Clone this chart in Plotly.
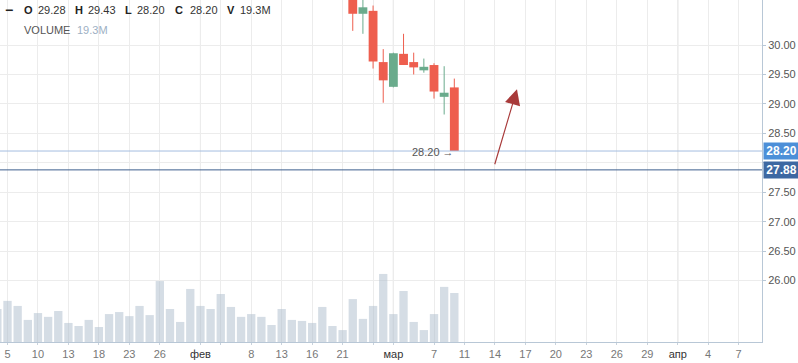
import plotly.graph_objects as go

# ---------------- data ----------------
bar_index = list(range(-1, 45))
volume_m = [13.0, 16.2, 14.2, 8.7, 11.4, 9.9, 12.2, 7.5, 6.3, 8.7, 5.9, 11.0, 11.8, 10.2,
            14.2, 10.6, 24.0, 13.0, 7.9, 20.9, 14.2, 13.0, 18.9, 13.8, 9.9, 11.0, 9.9, 6.7,
            13.0, 8.7, 8.3, 7.5, 13.8, 6.3, 4.7, 16.9, 9.1, 14.2, 26.8, 11.0, 20.1, 7.9,
            4.7, 11.0, 21.7, 19.3]

candle_index = [34, 35, 36, 37, 38, 39, 40, 41, 42, 43, 44]
open_p  = [30.95, 30.53, 30.58, 29.71, 29.29, 29.85, 29.71, 29.57, 29.66, 29.12, 29.28]
high_p  = [31.05, 30.90, 30.67, 29.93, 29.87, 30.19, 29.87, 29.77, 29.69, 29.64, 29.43]
low_p   = [30.24, 30.19, 29.60, 29.02, 29.28, 29.66, 29.50, 29.53, 29.09, 28.82, 28.20]
close_p = [30.53, 30.64, 29.72, 29.40, 29.86, 29.66, 29.62, 29.63, 29.21, 29.19, 28.20]

x_tick_pos  = [0, 3, 6, 9, 12, 15, 19, 21, 24, 27, 30, 33, 36, 38, 42, 45, 48, 51, 54,
               57, 60, 63, 66, 69, 72]
x_tick_text = ["5", "10", "13", "18", "23", "26", "фев", "", "8", "13", "16", "21", "",
               "мар", "7", "11", "14", "17", "20", "23", "26", "29", "апр", "4", "7"]
month_pos = [19, 38, 66]
month_names = ["фев", "мар", "апр"]

y_tick_vals = [26.0, 26.5, 27.0, 27.5, 28.0, 28.5, 29.0, 29.5, 30.0]
y_tick_text = ["26.00", "26.50", "27.00", "27.50", "", "28.50", "29.00", "29.50", "30.00"]

last_price = 28.20
alert_price = 27.88
arrow_from = (47.94, 27.95)
arrow_to = (50.17, 29.25)

legend_items = [("O", "29.28"), ("H", "29.43"), ("L", "28.20"), ("C", "28.20"), ("V", "19.3M")]
volume_label = ("VOLUME", "19.3M")

# ---------------- style ----------------
RED = "#ee5e4e"
GREEN = "#6aab8c"
FONT = "Liberation Sans, Arial, sans-serif"

fig = go.Figure()

fig.add_trace(go.Bar(
    x=bar_index, y=volume_m, yaxis="y2", width=0.82,
    marker=dict(color="rgba(178,193,208,0.55)", line=dict(width=0)),
    hoverinfo="skip", showlegend=False))

for up in (True, False):
    col = GREEN if up else RED
    xs, base, h, wx, wy = [], [], [], [], []
    for i, o, hi, lo, c in zip(candle_index, open_p, high_p, low_p, close_p):
        if (c >= o) != up:
            continue
        xs.append(i)
        base.append(min(o, c))
        h.append(abs(c - o))
        wx += [i, i, None]
        wy += [lo, hi, None]
    fig.add_trace(go.Scatter(x=wx, y=wy, mode="lines", line=dict(color=col, width=1),
                             hoverinfo="skip", showlegend=False))
    fig.add_trace(go.Bar(x=xs, y=h, base=base, width=0.87,
                         marker=dict(color=col, line=dict(width=0)),
                         hoverinfo="skip", showlegend=False))

shapes = []
for m in month_pos:
    shapes.append(dict(type="line", xref="x", yref="paper", x0=m, x1=m, y0=0, y1=1,
                       line=dict(color="#c4c4c4", width=1), layer="below"))
shapes.append(dict(type="line", xref="paper", yref="y", x0=0, x1=1, y0=last_price, y1=last_price,
                   line=dict(color="#a4bde0", width=1)))
shapes.append(dict(type="line", xref="paper", yref="y", x0=0, x1=1, y0=alert_price, y1=alert_price,
                   line=dict(color="#3d5f8e", width=1)))

ann = []
H = 342.0
W = 762.0
ROW1 = 10.0
ROW2 = 30.0
# legend row 1
ann.append(dict(xref="paper", yref="paper", x=3 / W, y=1 - ROW1 / H, xanchor="left", yanchor="middle",
                text="<b>−</b>", showarrow=False,
                font=dict(family=FONT, size=14, color="#222")))
label_x = [22, 73, 123, 173, 225]
value_x = [36, 86, 135, 188, 238]
for (k, v), lx, vx in zip(legend_items, label_x, value_x):
    ann.append(dict(xref="paper", yref="paper", x=lx / W, y=1 - ROW1 / H, xanchor="left",
                    yanchor="middle", text="<b>%s</b>" % k, showarrow=False,
                    font=dict(family=FONT, size=11, color="#222")))
    ann.append(dict(xref="paper", yref="paper", x=vx / W, y=1 - ROW1 / H, xanchor="left",
                    yanchor="middle", text=v, showarrow=False,
                    font=dict(family=FONT, size=11, color="#333")))
ann.append(dict(xref="paper", yref="paper", x=22 / W, y=1 - ROW2 / H, xanchor="left",
                yanchor="middle", text=volume_label[0], showarrow=False,
                font=dict(family=FONT, size=11, color="#555")))
ann.append(dict(xref="paper", yref="paper", x=75 / W, y=1 - ROW2 / H, xanchor="left",
                yanchor="middle", text=volume_label[1], showarrow=False,
                font=dict(family=FONT, size=11, color="#9db0c4")))

# last price label by candle
ann.append(dict(xref="x", yref="y", x=candle_index[-1], y=last_price, xanchor="right",
                yanchor="middle", xshift=2, yshift=-1, text="28.20 →", showarrow=False,
                font=dict(family=FONT, size=11, color="#555")))

# axis boxes
for p, bg in ((last_price, "#4c8fd8"), (alert_price, "#3d68a2")):
    ann.append(dict(xref="paper", yref="y", x=1, y=p, xanchor="left", yanchor="middle",
                    xshift=1, text="<b>%.2f</b>" % p, showarrow=False, bgcolor=bg,
                    width=33, height=14, borderpad=1, align="center",
                    font=dict(family=FONT, size=12, color="white")))

# drawn arrow
ann.append(dict(xref="x", yref="y", x=arrow_to[0], y=arrow_to[1], axref="x", ayref="y",
                ax=arrow_from[0], ay=arrow_from[1], text="", showarrow=True,
                arrowhead=2, arrowsize=2.6, arrowwidth=1.2, arrowcolor="#a83a3a"))

tick_text_styled = [('<span style="color:#333">%s</span>' % t) if t in month_names else t
                    for t in x_tick_text]

fig.update_layout(
    width=798, height=363,
    margin=dict(l=0, r=36, t=0, b=21),
    paper_bgcolor="white", plot_bgcolor="white",
    barmode="overlay", showlegend=False,
    shapes=shapes, annotations=ann,
    font=dict(family=FONT, size=11, color="#555"),
    xaxis=dict(range=[-0.739, 74.3], tickmode="array", tickvals=x_tick_pos, ticktext=tick_text_styled,
               showgrid=True, gridcolor="#ececec", gridwidth=1, zeroline=False,
               showline=True, linecolor="#b8c7d6", linewidth=1, mirror=True,
               ticks="outside", ticklen=2, tickcolor="#c8d2dc",
               tickfont=dict(family=FONT, size=11, color="#777")),
    yaxis=dict(side="right", range=[24.958, 30.764], tickmode="array", tickvals=y_tick_vals,
               ticktext=y_tick_text, showgrid=True, gridcolor="#ececec", zeroline=False,
               showline=True, linecolor="#b8c7d6", linewidth=1,
               ticks="outside", ticklen=3, tickcolor="#b8c7d6",
               tickfont=dict(family=FONT, size=11, color="#555")),
    yaxis2=dict(overlaying="y", range=[0, 134.7], visible=False, fixedrange=True),
)

fig.write_html("out.html", config={"displayModeBar": False},
               post_script="document.body.style.margin='0';document.body.style.padding='0';")
